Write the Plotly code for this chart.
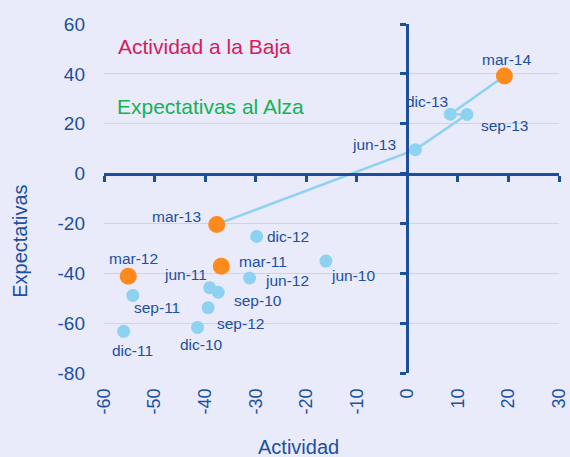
import plotly.graph_objects as go

# ---- data ----
periods = ["jun-10", "sep-10", "dic-10", "mar-11", "jun-11", "sep-11", "dic-11",
           "mar-12", "jun-12", "sep-12", "dic-12", "mar-13", "jun-13", "sep-13",
           "dic-13", "mar-14"]
actividad = [-16.1, -37.4, -41.5, -36.8, -39.1, -54.3, -56.1,
             -55.2, -31.2, -39.4, -29.8, -37.7, 1.6, 11.8, 8.5, 19.2]
expectativas = [-35.1, -47.6, -61.7, -37.2, -45.8, -48.9, -63.3,
                -41.2, -41.9, -53.8, -25.2, -20.4, 9.6, 23.7, 23.8, 39.1]
x_ticks = [-60, -50, -40, -30, -20, -10, 0, 10, 20, 30]
x_tick_labels = ["-60", "-50", "-40", "-30", "-20", "-10", "0", "10", "20", "30"]
y_ticks = [-80, -60, -40, -20, 0, 20, 40, 60]
y_tick_labels = ["-80", "-60", "-40", "-20", "0", "20", "40", "60"]
line_start = "mar-13"
x_title = "Actividad"
y_title = "Expectativas"

# ---- styles ----
BG = "#E9EAFA"
AX = "#1B4F9C"
TXT = "#1C50A0"
GRID = "#B5DEF5"
LIGHT = "#8DD3F1"
ORANGE = "#FF8A1C"
FONT = "Liberation Sans, Arial, sans-serif"

# label offsets in px (xshift, yshift)
offsets = {
    "jun-10": (27, -14), "sep-10": (40, -8), "dic-10": (4, -17),
    "mar-11": (42, 5), "jun-11": (-24, 13), "sep-11": (24, -12),
    "dic-11": (9, -19), "mar-12": (5, 18), "jun-12": (37, -2),
    "sep-12": (32, -16), "dic-12": (31, 0), "mar-13": (-40, 8),
    "jun-13": (-41, 5), "sep-13": (38, -11), "dic-13": (-23, 13),
    "mar-14": (2, 17),
}

i0 = periods.index(line_start)
colors = [ORANGE if p.startswith("mar") else LIGHT for p in periods]
sizes = [17 if p.startswith("mar") else 13 for p in periods]

fig = go.Figure()
fig.add_trace(go.Scatter(x=actividad[i0:], y=expectativas[i0:], mode="lines",
                         line=dict(color=LIGHT, width=2.5), hoverinfo="skip",
                         showlegend=False))
fig.add_trace(go.Scatter(x=actividad, y=expectativas, mode="markers",
                         marker=dict(color=colors, size=sizes, opacity=1,
                                     line=dict(width=0)),
                         showlegend=False))
# overlay axes drawn through zero
fig.add_trace(go.Scatter(x=[None], y=[None], xaxis="x2", yaxis="y2",
                         showlegend=False, hoverinfo="skip"))

for p, xv, yv in zip(periods, actividad, expectativas):
    dx, dy = offsets[p]
    fig.add_annotation(x=xv, y=yv, text=p, showarrow=False, xshift=dx, yshift=dy,
                       font=dict(family=FONT, size=15.5, color=TXT))

fig.add_annotation(x=-57.6, y=51, text="Actividad a la Baja", showarrow=False,
                   xanchor="left", yanchor="middle",
                   font=dict(family=FONT, size=21, color="#D41C5E"))
fig.add_annotation(x=-57.9, y=27, text="Expectativas al Alza", showarrow=False,
                   xanchor="left", yanchor="middle",
                   font=dict(family=FONT, size=21, color="#12B356"))

# axis titles (offset from centre, as in the original)
fig.add_annotation(xref="paper", yref="paper", x=0.4264, y=-0.212, text=x_title,
                   showarrow=False, xanchor="center", yanchor="middle",
                   font=dict(family=FONT, size=20, color=TXT))
fig.add_annotation(xref="paper", yref="paper", x=-0.1846, y=0.376, text=y_title,
                   showarrow=False, xanchor="center", yanchor="middle", textangle=-90,
                   font=dict(family=FONT, size=20, color=TXT))

xr = [x_ticks[0], x_ticks[-1]]
yr = [y_ticks[0], y_ticks[-1]]
xpos = (0 - yr[0]) / (yr[1] - yr[0])
ypos = (0 - xr[0]) / (xr[1] - xr[0])

fig.update_layout(
    width=570, height=457,
    margin=dict(l=104, r=11, t=24, b=84),
    paper_bgcolor=BG, plot_bgcolor=BG,
    font=dict(family=FONT, color=TXT),
    xaxis=dict(range=xr, tickvals=x_ticks, ticktext=x_tick_labels, tickangle=-90,
               showgrid=False, automargin=False,
               zeroline=False, showline=False, ticks="",
               ticklabelstandoff=11,
               tickfont=dict(size=18, color=TXT)),
    yaxis=dict(range=yr, tickvals=y_ticks, ticktext=y_tick_labels, showgrid=True,
               gridcolor=GRID, gridwidth=1, automargin=False,
               zeroline=False, showline=False, ticks="",
               ticklabelstandoff=18,
               tickfont=dict(size=19, color=TXT)),
    xaxis2=dict(range=xr, tickvals=x_ticks, overlaying="x", anchor="free",
                position=xpos, showticklabels=False, showgrid=False, zeroline=False,
                automargin=False,
                showline=True, linecolor=AX, linewidth=3, ticks="outside",
                ticklen=6, tickwidth=2.5, tickcolor=AX),
    yaxis2=dict(range=yr, tickvals=y_ticks, overlaying="y", anchor="free",
                position=ypos, showticklabels=False, showgrid=False, zeroline=False,
                automargin=False,
                showline=True, linecolor=AX, linewidth=3, ticks="outside",
                ticklen=6, tickwidth=2.5, tickcolor=AX),
)

fig.write_html("out.html",
               config={"displayModeBar": False},
               post_script="document.body.style.margin='0';"
                           "document.body.style.background='" + BG + "';")
